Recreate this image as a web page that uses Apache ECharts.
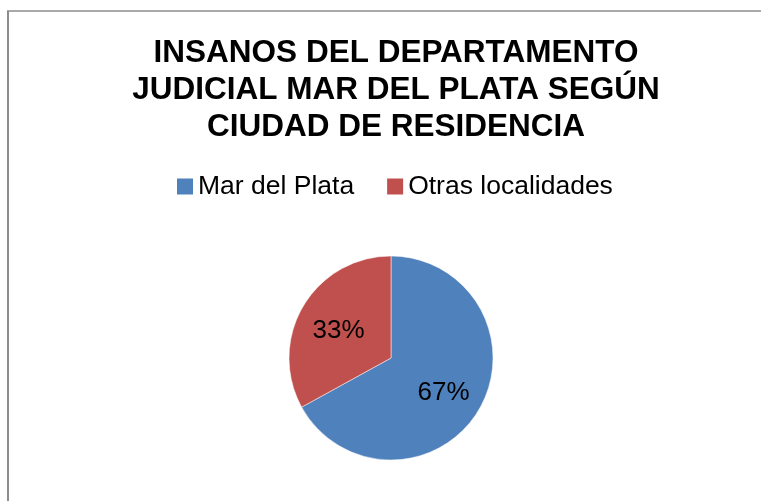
<!DOCTYPE html>
<html>
<head>
<meta charset="utf-8">
<script src="https://cdn.jsdelivr.net/npm/echarts@6/dist/echarts.min.js"></script>
<style>
  html, body { margin: 0; padding: 0; background: #fff; }
  #chart { width: 761px; height: 501px; }
</style>
</head>
<body>
<div id="chart"></div>
<script>
var titleText = "INSANOS DEL DEPARTAMENTO\nJUDICIAL MAR DEL PLATA SEGÚN\nCIUDAD DE RESIDENCIA";
var categories = ["Mar del Plata", "Otras localidades"];
var values = [67, 33];
var colors = ["#4F81BD", "#C0504D"];

var center = [391, 358];
var radius = 102;

var chart = echarts.init(document.getElementById("chart"));
chart.setOption({
  backgroundColor: "#fff",
  animation: false,
  title: {
    text: titleText,
    left: 391,
    textAlign: "center",
    top: 30,
    textStyle: {
      fontFamily: "Liberation Sans, Arial, sans-serif",
      fontWeight: "bold",
      fontSize: 31.5,
      lineHeight: 37,
      color: "#000"
    }
  },
  legend: {
    data: categories,
    left: 172,
    top: 168,
    itemWidth: 16,
    itemHeight: 16,
    itemGap: 33,
    icon: "rect",
    itemStyle: { borderWidth: 0 },
    textStyle: {
      fontFamily: "Liberation Sans, Arial, sans-serif",
      fontSize: 26.5,
      color: "#000",
      padding: [0, 0, 0, 0]
    }
  },
  graphic: [
    { type: "line", shape: { x1: 8, y1: 11, x2: 8, y2: 501 }, style: { stroke: "#8c8c8c", lineWidth: 2 } },
    { type: "line", shape: { x1: 7, y1: 11, x2: 761, y2: 11 }, style: { stroke: "#8c8c8c", lineWidth: 1.5 } }
  ],
  series: [
    {
      type: "pie",
      center: center,
      radius: radius,
      startAngle: 90,
      clockwise: true,
      color: colors,
      itemStyle: { borderColor: "#fff", borderWidth: 0.5 },
      label: {
        show: true,
        position: "inside",
        formatter: "{d}%",
        fontFamily: "Liberation Sans, Arial, sans-serif",
        fontSize: 26,
        color: "#000"
      },
      labelLayout: function (params) {
        var r = params.labelRect;
        var lx = r.x + r.width / 2;
        var ly = r.y + r.height / 2;
        return {
          x: center[0] + (lx - center[0]) * 1.13,
          y: center[1] + (ly - center[1]) * 1.13 + 4
        };
      },
      data: categories.map(function (c, i) {
        return { name: c, value: values[i] };
      })
    }
  ]
});
</script>
</body>
</html>
